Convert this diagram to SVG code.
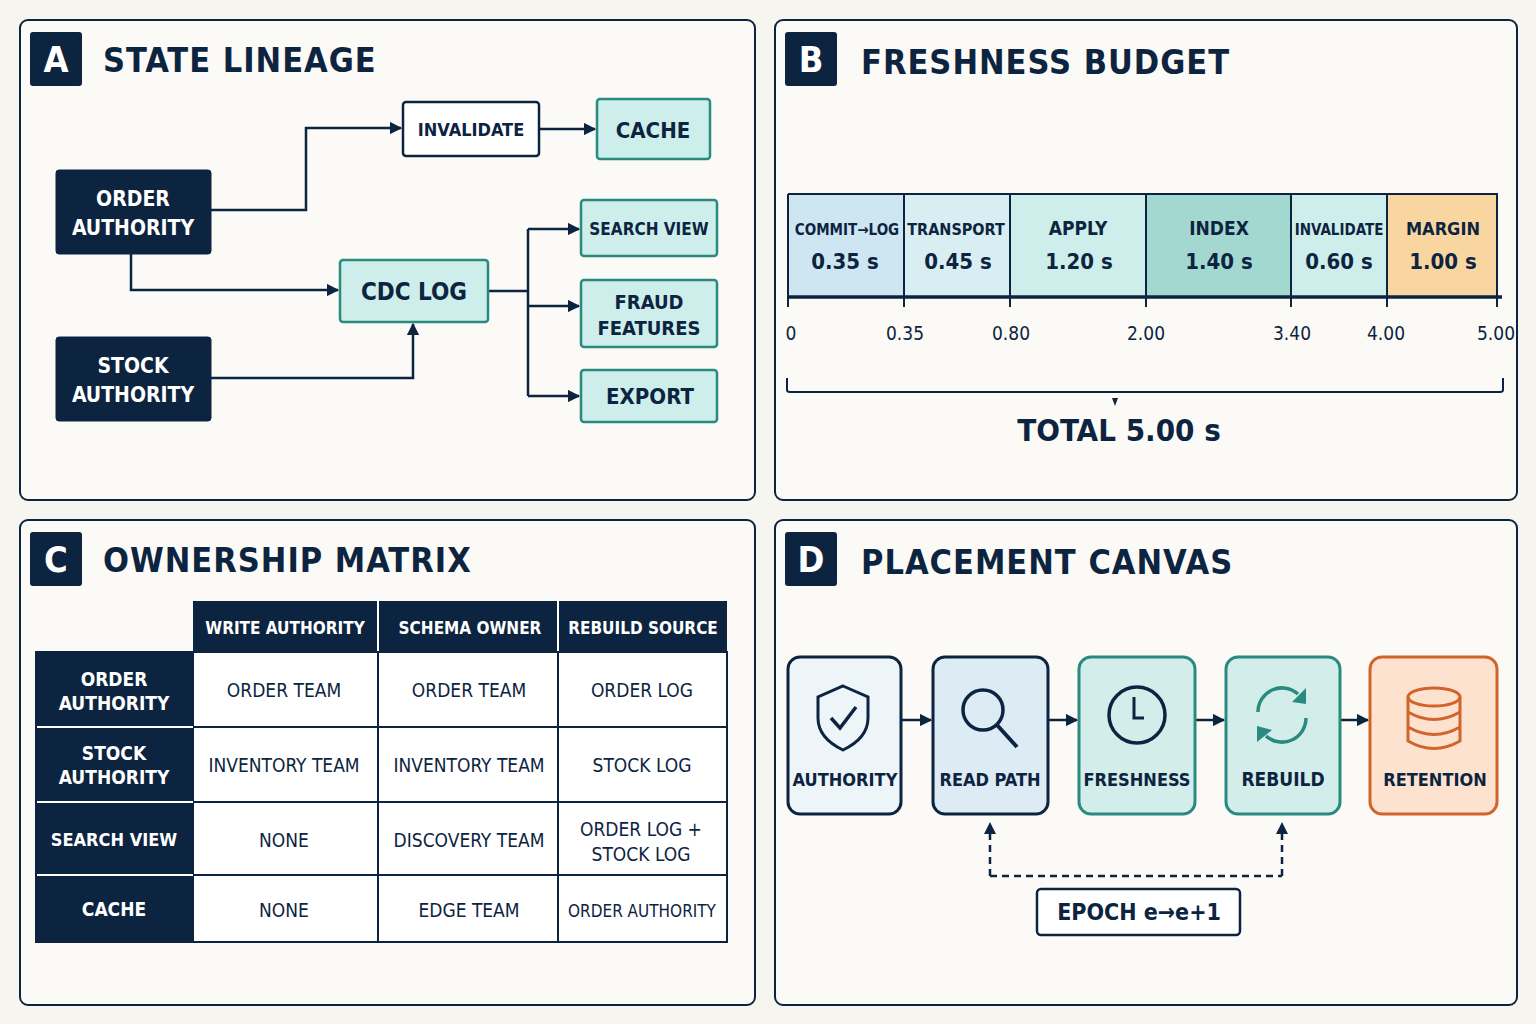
<svg xmlns="http://www.w3.org/2000/svg" width="1536" height="1024" viewBox="0 0 1536 1024">
<defs>
<style>
text{font-family:"DejaVu Sans Condensed","DejaVu Sans",sans-serif;font-stretch:condensed;font-weight:bold;fill:#0d2440;text-anchor:middle}
.panel{fill:#fbfaf6;stroke:#0d2440;stroke-width:2}
.badge{fill:#0d2440}
.bt{fill:#fff;font-size:36px}
.title{font-size:34px;text-anchor:start;letter-spacing:1px}
.navy{fill:#0d2440;stroke:#0d2440}
.wt{fill:#fff}
.teal{fill:#cdeeea;stroke:#2a8a80;stroke-width:2.5}
.wbox{fill:#fff;stroke:#0d2440;stroke-width:2.5}
.ln{fill:none;stroke:#0d2440;stroke-width:2.5}
.tk{font-size:19px;font-weight:normal}
.cell{font-weight:normal}
.seg{fill:none;stroke:#0d2440;stroke-width:2}
</style>
<marker id="ah" viewBox="0 0 10 10" refX="9" refY="5" markerWidth="5" markerHeight="5" orient="auto"><path d="M0,0L10,5L0,10z" fill="#0d2440"/></marker>
</defs>
<rect width="1536" height="1024" fill="#f7f5ef"/>
<rect class="panel" x="20" y="20" width="735" height="480" rx="8"/>
<rect class="panel" x="775" y="20" width="742" height="480" rx="8"/>
<rect class="panel" x="20" y="520" width="735" height="485" rx="8"/>
<rect class="panel" x="775" y="520" width="742" height="485" rx="8"/>
<g id="headers">
<rect class="badge" x="30" y="32" width="52" height="54" rx="3"/><text class="bt" x="56" y="72">A</text><text class="title" x="103" y="72">STATE LINEAGE</text>
<rect class="badge" x="785" y="32" width="52" height="54" rx="3"/><text class="bt" x="811" y="72">B</text><text class="title" x="861" y="74">FRESHNESS BUDGET</text>
<rect class="badge" x="30" y="532" width="52" height="54" rx="3"/><text class="bt" x="56" y="572">C</text><text class="title" x="103" y="572">OWNERSHIP MATRIX</text>
<rect class="badge" x="785" y="532" width="52" height="54" rx="3"/><text class="bt" x="811" y="572">D</text><text class="title" x="861" y="574">PLACEMENT CANVAS</text>
</g>
<g id="connectors">
<path class="ln" marker-end="url(#ah)" d="M211,210H306V128H401"/>
<path class="ln" marker-end="url(#ah)" d="M539,129H595"/>
<path class="ln" marker-end="url(#ah)" d="M131,254V290H338"/>
<path class="ln" marker-end="url(#ah)" d="M211,378H413V324"/>
<path class="ln" d="M488,291H528M528,229V396"/>
<path class="ln" marker-end="url(#ah)" d="M528,229H579"/>
<path class="ln" marker-end="url(#ah)" d="M528,306H579"/>
<path class="ln" marker-end="url(#ah)" d="M528,396H579"/>
<path class="ln" marker-end="url(#ah)" d="M902,720H931"/>
<path class="ln" marker-end="url(#ah)" d="M1049,720H1077"/>
<path class="ln" marker-end="url(#ah)" d="M1196,720H1224"/>
<path class="ln" marker-end="url(#ah)" d="M1341,720H1368"/>
<path class="ln" stroke-dasharray="7,5" d="M990,876H1282M990,876V830M1282,876V830"/>
<path d="M984,834L990,822L996,834z M1276,834L1282,822L1288,834z" fill="#0d2440"/>
</g>
<g id="order-authority"><rect class="navy" x="56" y="170" width="155" height="84" rx="3"/><text class="wt" x="133" y="206" font-size="21">ORDER</text><text class="wt" x="133" y="235" font-size="21">AUTHORITY</text></g>
<g id="stock-authority"><rect class="navy" x="56" y="337" width="155" height="84" rx="3"/><text class="wt" x="133" y="373" font-size="21">STOCK</text><text class="wt" x="133" y="402" font-size="21">AUTHORITY</text></g>
<g id="invalidate"><rect class="wbox" x="403" y="102" width="136" height="54" rx="3"/><text x="471" y="136" font-size="18">INVALIDATE</text></g>
<g id="cache"><rect class="teal" x="597" y="99" width="113" height="60" rx="3"/><text x="653" y="138" font-size="22">CACHE</text></g>
<g id="cdc-log"><rect class="teal" x="340" y="260" width="148" height="62" rx="3"/><text x="414" y="300" font-size="24">CDC LOG</text></g>
<g id="search-view"><rect class="teal" x="581" y="200" width="136" height="56" rx="3"/><text x="649" y="235" font-size="17">SEARCH VIEW</text></g>
<g id="fraud-features"><rect class="teal" x="581" y="280" width="136" height="67" rx="3"/><text x="649" y="309" font-size="20">FRAUD</text><text x="649" y="335" font-size="20">FEATURES</text></g>
<g id="export"><rect class="teal" x="581" y="370" width="136" height="52" rx="3"/><text x="650" y="404" font-size="22">EXPORT</text></g>
<g id="budget">
<rect x="788" y="194" width="116" height="103" fill="#cde6f2"/>
<rect x="904" y="194" width="106" height="103" fill="#d8eef2"/>
<rect x="1010" y="194" width="136" height="103" fill="#cdeeea"/>
<rect x="1146" y="194" width="145" height="103" fill="#a2d8d0"/>
<rect x="1291" y="194" width="96" height="103" fill="#cdeeea"/>
<rect x="1387" y="194" width="110" height="103" fill="#f9d6a0"/>
<path class="seg" d="M788,194H1497V297M904,194V297M1010,194V297M1146,194V297M1291,194V297M1387,194V297"/>
<path d="M788,194V307M904,297V307M1010,297V307M1146,297V307M1291,297V307M1387,297V307M1497,297V307" stroke="#0d2440" stroke-width="2"/>
<path d="M788,297H1502" stroke="#0d2440" stroke-width="3.5"/>
<text x="847" y="235" font-size="15">COMMIT→LOG</text><text x="956" y="235" font-size="16">TRANSPORT</text><text x="1078" y="235" font-size="19">APPLY</text><text x="1219" y="235" font-size="19">INDEX</text><text x="1339" y="235" font-size="15">INVALIDATE</text><text x="1443" y="235" font-size="18">MARGIN</text>
<text x="845" y="269" font-size="22">0.35 s</text><text x="958" y="269" font-size="22">0.45 s</text><text x="1079" y="269" font-size="22">1.20 s</text><text x="1219" y="269" font-size="22">1.40 s</text><text x="1339" y="269" font-size="22">0.60 s</text><text x="1443" y="269" font-size="22">1.00 s</text>
<text class="tk" x="791" y="340">0</text><text class="tk" x="905" y="340">0.35</text><text class="tk" x="1011" y="340">0.80</text><text class="tk" x="1146" y="340">2.00</text><text class="tk" x="1292" y="340">3.40</text><text class="tk" x="1386" y="340">4.00</text><text class="tk" x="1496" y="340">5.00</text>
<path d="M787,378V390Q787,392 790,392H1500Q1503,392 1503,390V378" fill="none" stroke="#0d2440" stroke-width="2"/>
<path d="M1112,398L1118,398L1115,406z" fill="#0d2440"/>
<text x="1119" y="441" font-size="31">TOTAL 5.00 s</text>
</g>
<g id="matrix">
<rect x="193" y="601" width="534" height="51" fill="#0d2440"/>
<rect x="36" y="652" width="157" height="290" fill="#0d2440"/>
<rect x="193" y="652" width="534" height="290" fill="#fff" stroke="#0d2440" stroke-width="2"/>
<path d="M193,727H727M193,802H727M193,875H727M378,601V942M558,601V942" stroke="#0d2440" stroke-width="2"/>
<path d="M36,727H193M36,802H193M36,875H193M378,601V652M558,601V652" stroke="#fff" stroke-width="2"/>
<rect x="36" y="652" width="691" height="290" fill="none" stroke="#0d2440" stroke-width="2"/>
<text class="wt" x="285" y="634" font-size="17">WRITE AUTHORITY</text><text class="wt" x="470" y="634" font-size="17">SCHEMA OWNER</text><text class="wt" x="643" y="634" font-size="17">REBUILD SOURCE</text>
<text class="wt" x="114" y="686" font-size="19">ORDER</text><text class="wt" x="114" y="710" font-size="19">AUTHORITY</text>
<text class="wt" x="114" y="760" font-size="19">STOCK</text><text class="wt" x="114" y="784" font-size="19">AUTHORITY</text>
<text class="wt" x="114" y="846" font-size="18">SEARCH VIEW</text>
<text class="wt" x="114" y="916" font-size="19">CACHE</text>
<g font-size="19">
<text class="cell" x="284" y="697">ORDER TEAM</text><text class="cell" x="469" y="697">ORDER TEAM</text><text class="cell" x="642" y="697">ORDER LOG</text>
<text class="cell" x="284" y="772">INVENTORY TEAM</text><text class="cell" x="469" y="772">INVENTORY TEAM</text><text class="cell" x="642" y="772">STOCK LOG</text>
<text class="cell" x="284" y="847">NONE</text><text class="cell" x="469" y="847">DISCOVERY TEAM</text><text class="cell" x="641" y="836">ORDER LOG +</text><text class="cell" x="641" y="861">STOCK LOG</text>
<text class="cell" x="284" y="917">NONE</text><text class="cell" x="469" y="917">EDGE TEAM</text><text class="cell" x="642" y="917" font-size="17">ORDER AUTHORITY</text>
</g>
</g>
<g id="authority"><rect x="788" y="657" width="113" height="157" rx="12" fill="#eef5f9" stroke="#0d2440" stroke-width="3"/>
<path d="M843,686L868,697V718Q868,738 843,750Q818,738 818,718V697Z" fill="none" stroke="#0d2440" stroke-width="3"/><path d="M831,718L840,728L856,707" fill="none" stroke="#0d2440" stroke-width="3.5"/>
<text x="845" y="786" font-size="18">AUTHORITY</text></g>
<g id="read-path"><rect x="933" y="657" width="115" height="157" rx="12" fill="#dcebf4" stroke="#0d2440" stroke-width="3"/>
<circle cx="983" cy="710" r="20" fill="none" stroke="#0d2440" stroke-width="3.5"/><path d="M997,725L1017,747" stroke="#0d2440" stroke-width="4"/>
<text x="990" y="786" font-size="18">READ PATH</text></g>
<g id="freshness"><rect x="1079" y="657" width="116" height="157" rx="12" fill="#d3eeea" stroke="#2a8a80" stroke-width="3"/>
<circle cx="1137" cy="715" r="28" fill="none" stroke="#0d2440" stroke-width="3.5"/><path d="M1134,697V718H1144" fill="none" stroke="#0d2440" stroke-width="3"/>
<text x="1137" y="786" font-size="18">FRESHNESS</text></g>
<g id="rebuild"><rect x="1226" y="657" width="114" height="157" rx="12" fill="#d3eeea" stroke="#2a8a80" stroke-width="3"/>
<path d="M1258,712A24,24 0 0 1 1298,694" fill="none" stroke="#2a8a80" stroke-width="3.5"/><path d="M1306,688L1306,704L1292,702z" fill="#2a8a80"/>
<path d="M1306,718A24,24 0 0 1 1266,736" fill="none" stroke="#2a8a80" stroke-width="3.5"/><path d="M1257,742L1257,726L1272,730z" fill="#2a8a80"/>
<text x="1283" y="786" font-size="19">REBUILD</text></g>
<g id="retention"><rect x="1370" y="657" width="127" height="157" rx="12" fill="#fde3cf" stroke="#d2642a" stroke-width="3"/>
<g fill="none" stroke="#d2642a" stroke-width="3"><ellipse cx="1434" cy="697" rx="26" ry="9"/><path d="M1408,697V741Q1434,756 1460,741V697M1408,712Q1434,727 1460,712M1408,727Q1434,742 1460,727"/></g>
<text x="1435" y="786" font-size="18">RETENTION</text></g>
<g id="epoch"><rect x="1037" y="889" width="203" height="46" rx="4" fill="#fff" stroke="#0d2440" stroke-width="2.5"/><text x="1139" y="920" font-size="23">EPOCH e→e+1</text></g>
</svg>
